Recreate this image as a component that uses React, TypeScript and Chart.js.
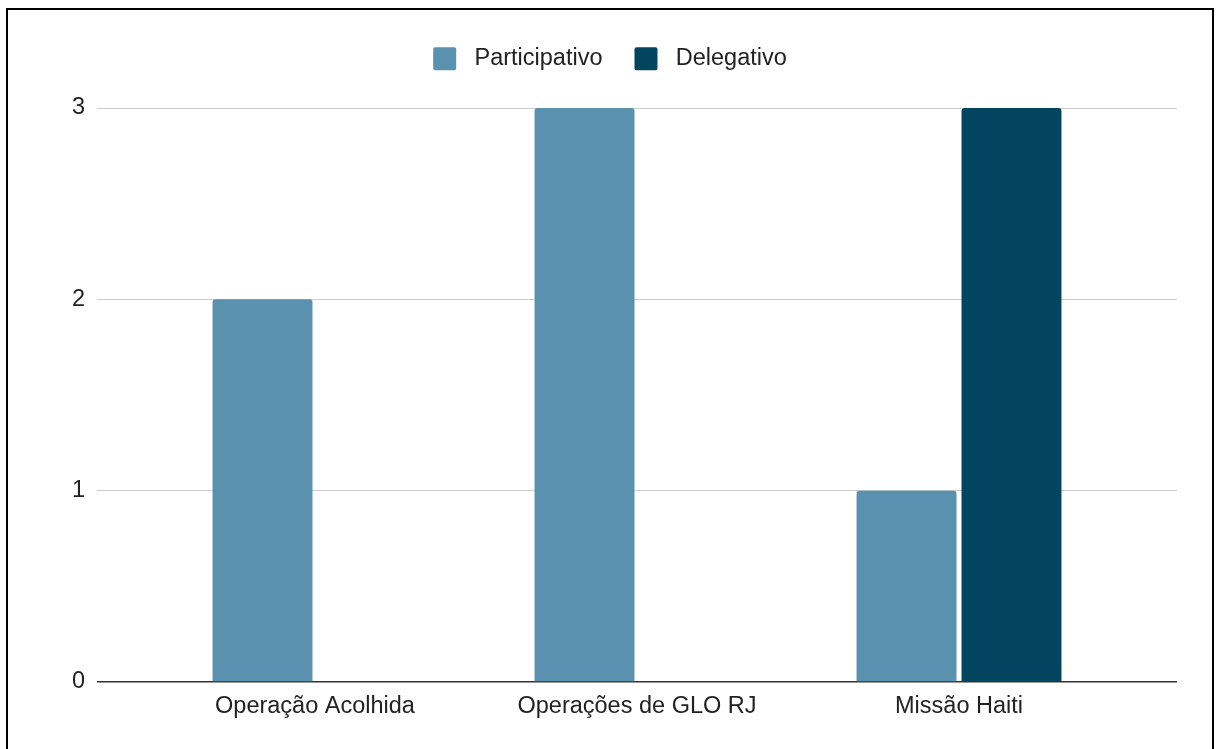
import { useEffect, useRef } from "react";
import { Chart, registerables } from "chart.js";

Chart.register(...registerables);

// Categories along the horizontal axis
const categories = ["Operação Acolhida", "Operações de GLO RJ", "Missão Haiti"];

// Series values, one per category
const participativo = [2, 3, 1];
const delegativo = [0, 0, 3];

// Series labels and fills
const seriesNames = ["Participativo", "Delegativo"];
const seriesColors = ["#5991ae", "#03455f"];

// Value-axis ticks
const yTicks = [0, 1, 2, 3];

const FONT_FAMILY = '"Liberation Sans", Arial, Helvetica, sans-serif';
const FONT_SIZE = 23.5;
const TEXT_COLOR = "#222222";

// Adds extra room between the legend row and the plot area
const legendGap = {
  id: "legendGap",
  afterInit(chart: any) {
    const legend = chart.legend;
    if (!legend || legend.__gapPatched) return;
    const fit = legend.fit;
    legend.fit = function () {
      fit.call(this);
      this.height += 27.5;
    };
    legend.__gapPatched = true;
  },
};

export default function App() {
  const canvasRef = useRef<HTMLCanvasElement | null>(null);

  useEffect(() => {
    const canvas = canvasRef.current;
    if (!canvas) return;

    const seriesValues = [participativo, delegativo];

    const chart = new Chart(canvas, {
      type: "bar",
      data: {
        datasets: seriesNames.map((name, k) => ({
          label: name,
          data: seriesValues[k].map((v, i) => ({ x: i, y: v })),
          backgroundColor: seriesColors[k],
          borderWidth: 0,
          borderRadius: 3,
          categoryPercentage: 0.652,
          barPercentage: 0.952,
        })),
      },
      options: {
        responsive: false,
        animation: false,
        devicePixelRatio: 1,
        events: [],
        layout: { padding: { left: 35, right: 35, top: 5, bottom: 0 } },
        plugins: {
          tooltip: { enabled: false },
          legend: {
            position: "top",
            align: "center",
            labels: {
              boxWidth: 23,
              boxHeight: 23,
              padding: 32,
              color: TEXT_COLOR,
              useBorderRadius: true,
              borderRadius: 2,
              font: { family: FONT_FAMILY, size: FONT_SIZE },
              generateLabels: (c: any) =>
                Chart.defaults.plugins.legend.labels
                  .generateLabels(c)
                  .map((item: any) => ({ ...item, text: " " + item.text })),
            },
          },
        },
        scales: {
          x: {
            type: "linear",
            offset: false,
            bounds: "data",
            min: -0.677,
            max: 2.677,
            afterBuildTicks: (s: any) => {
              s.ticks = categories.map((_, i) => ({ value: i }));
            },
            afterFit: (s: any) => {
              s.height = 67;
            },
            ticks: {
              autoSkip: false,
              maxRotation: 0,
              padding: 10,
              color: TEXT_COLOR,
              font: { family: FONT_FAMILY, size: FONT_SIZE },
              callback: (v: any) => categories[Number(v)] ?? "",
            },
            grid: { display: false, drawTicks: false, offset: false },
            border: { display: false },
          },
          y: {
            min: 0,
            max: 3,
            afterBuildTicks: (s: any) => {
              s.ticks = yTicks.map((v) => ({ value: v }));
            },
            afterFit: (s: any) => {
              s.width = 54;
            },
            ticks: {
              padding: 12,
              color: TEXT_COLOR,
              font: { family: FONT_FAMILY, size: FONT_SIZE },
            },
            grid: {
              drawTicks: false,
              color: (ctx: any) => (ctx.tick && ctx.tick.value === 0 ? "#333333" : "#cccccc"),
              lineWidth: (ctx: any) => (ctx.tick && ctx.tick.value === 0 ? 1.5 : 1),
            },
            border: { display: false },
          },
        },
      },
      plugins: [legendGap],
    } as any);

    return () => chart.destroy();
  }, []);

  return (
    <div
      style={{
        position: "fixed",
        left: 6,
        top: 8,
        width: 1204,
        height: 760,
        border: "2px solid #000",
        background: "#fff",
        boxSizing: "content-box",
      }}
    >
      <canvas
        ref={canvasRef}
        width={1204}
        height={739}
        style={{ display: "block", width: 1204, height: 739 }}
      />
    </div>
  );
}
